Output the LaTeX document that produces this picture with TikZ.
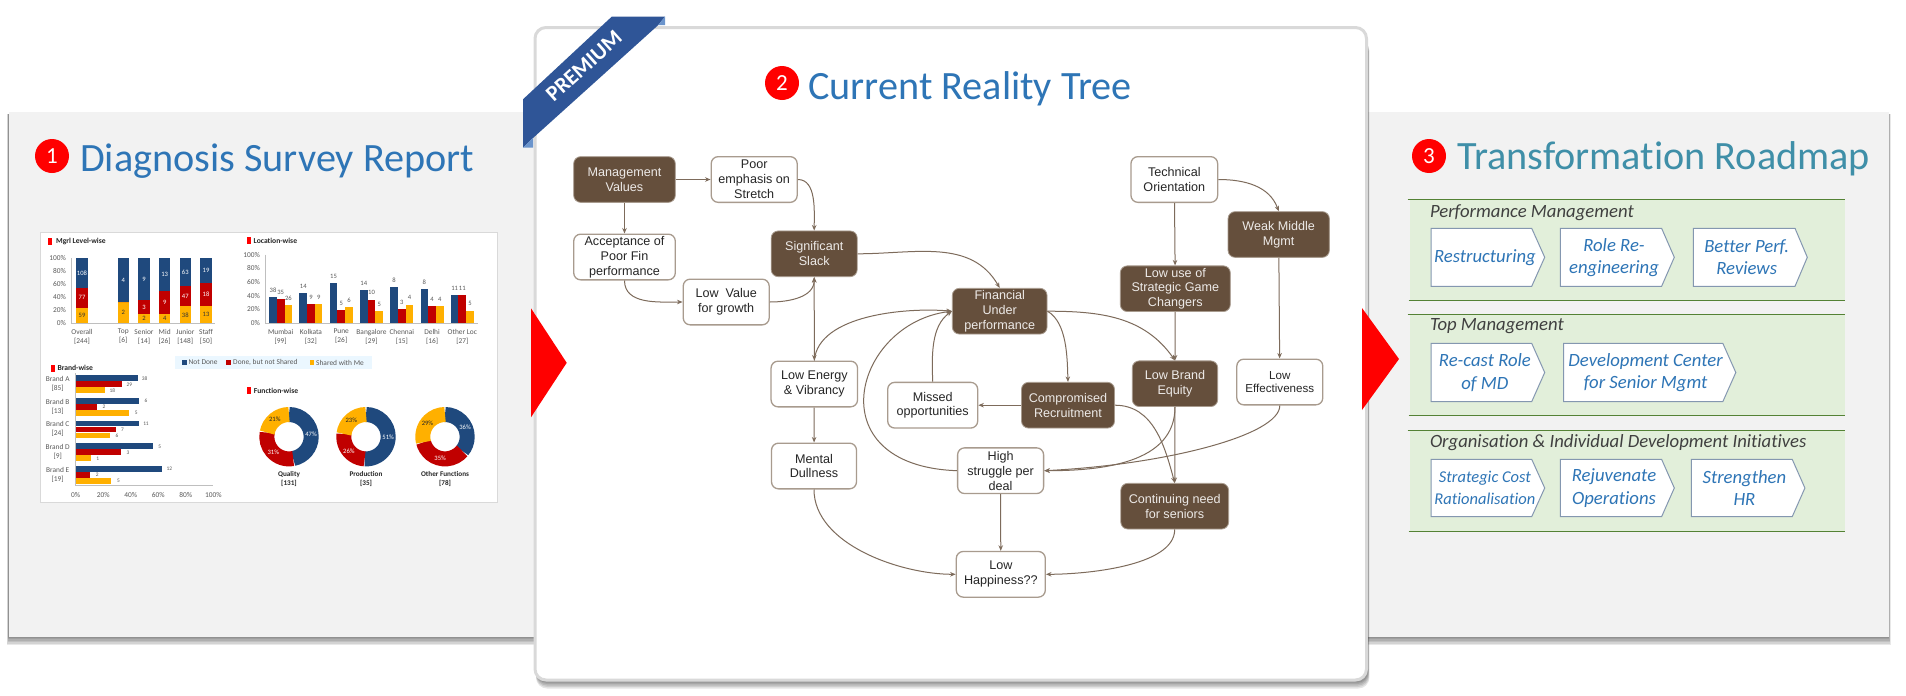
\documentclass[tikz,border=0pt]{standalone}
\usepackage{fontspec}
\setmainfont[Ligatures=NoCommon]{Carlito}
\newfontfamily\arialfont{Liberation Sans}
\usetikzlibrary{arrows.meta, positioning}

\definecolor{panelgray}{HTML}{F2F2F2}
\definecolor{cardline}{HTML}{D9D9D9}
\definecolor{titleblue}{HTML}{2E75B6}
\definecolor{titleteal}{HTML}{3F8FA8}
\definecolor{treebrown}{HTML}{654F3C}
\definecolor{treeline}{HTML}{7D6B5B}
\definecolor{treeedge}{HTML}{A89B8E}
\definecolor{ribbon}{HTML}{2F5597}
\definecolor{ribbonfold}{HTML}{6A94CC}
\definecolor{bandgreen}{HTML}{E2EFDA}
\definecolor{bandline}{HTML}{548235}
\definecolor{homeline}{HTML}{8497B0}
\definecolor{notdone}{HTML}{1F497D}
\definecolor{notshared}{HTML}{C00000}
\definecolor{sharedme}{HTML}{FFB000}
\definecolor{chartgray}{HTML}{595959}

\tikzset{
    heading/.style={anchor=base west, inner sep=0pt, font=\fontsize{40.2}{42}\selectfont},
    badge/.style={circle, fill=red, text=white, minimum size=34pt, inner sep=0pt, font=\fontsize{23}{23}\selectfont},
    darkbox/.style={draw=treeedge, line width=0.8pt, fill=treebrown, text=white!88!treebrown, rounded corners=7pt, inner sep=0pt, align=center, font=\arialfont\fontsize{12.6}{14.8}\selectfont},
    lightbox/.style={draw=treeedge, line width=1.3pt, fill=white, text=black!85, rounded corners=7pt, inner sep=0pt, align=center, font=\arialfont\fontsize{12.6}{14.8}\selectfont},
    link/.style={draw=treeline, line width=1pt, -{Stealth[length=5.5pt,width=4.5pt]}},
    hometext/.style={text=titleblue, inner sep=0pt, align=center, font=\itshape\fontsize{18.7}{22.2}\selectfont},
    bandtitle/.style={anchor=base west, inner sep=0pt, text=black!75, font=\itshape\fontsize{18.7}{20}\selectfont},
    chartbold/.style={anchor=west, inner sep=0pt, text=black!85, font=\bfseries\fontsize{7.6}{8}\selectfont},
    chartlbl/.style={inner sep=0pt, text=chartgray, align=center, font=\fontsize{7.4}{9}\selectfont},
    tinylbl/.style={inner sep=0pt, font=\fontsize{6.6}{7}\selectfont},
    marker/.style={fill=red, draw=none}
}

% name, left, end of body, tip, top, bottom, text centre, text
\newcommand{\homebox}[8]{
    \draw[homeline, line width=1pt, fill=white, line join=miter] (#2,#5) -- (#3,#5) -- (#4,#5/2+#6/2) -- (#3,#6) -- (#2,#6) -- cycle;
    \node[hometext] (#1) at (#7,#5/2+#6/2) {#8};
}

\begin{document}
\begin{tikzpicture}[x=1pt, y=-1pt]
    \useasboundingbox (0,0) rectangle (1906,696);

    % Side panels with soft shadow
    \foreach \s in {8,6.5,5,3.5,2,1} {
        \fill[black, opacity=0.09] (8.6-0.2*\s,114) rectangle (545,637+\s);
        \fill[black, opacity=0.09] (1360,114) rectangle (1889+0.2*\s,637+\s);
    }
    \fill[panelgray] (8.6,112) rectangle (545,637);
    \fill[panelgray] (1360,112) rectangle (1889,637);

    % Middle card
    \foreach \s in {7,5.5,4,2.5,1.2} {
        \fill[black, opacity=0.1, rounded corners=11pt] (536,40) rectangle (1368+0.2*\s,681.5+\s);
    }
    \draw[cardline, line width=3pt, fill=white, rounded corners=11pt] (535,27.5) rectangle (1366.5,680);

    % Red arrows between panels
    \fill[red] (531,308.3) -- (566.7,362.8) -- (531,417.3) -- cycle;
    \fill[red] (1362,308) -- (1399,359) -- (1362,410) -- cycle;

    % Ribbon
    \fill[ribbon] (611.7,16.7) -- (665,16.7) -- (658.3,25) -- (533,138) -- (523,147.7) -- (523,99.3) -- cycle;
    \fill[ribbonfold] (665,16.7) -- (665,25) -- (658.3,25) -- cycle;
    \fill[ribbonfold] (523,147.7) -- (533,147.7) -- (533,138) -- cycle;
    \node[rotate=42, text=white, inner sep=0pt, font=\bfseries\fontsize{22}{22}\selectfont] (premium) at (584,66) {PREMIUM};

    % Headings
    \node[badge] (badge1) at (52,156) {1};
    \node[heading, text=titleblue] (title1) at (80,171.7) {Diagnosis Survey Report};
    \node[badge] (badge2) at (782,83) {2};
    \node[heading, text=titleblue] (title2) at (808,99.3) {Current Reality Tree};
    \node[badge] (badge3) at (1429,156) {3};
    \node[heading, text=titleteal] (title3) at (1457,169.3) {Transformation Roadmap};

    % Survey report picture
    \fill[white] (40.7,232.7) rectangle (497,502.3);
    \draw[cardline, line width=0.8pt] (40.7,232.7) rectangle (497,502.3);

    % Mgrl Level-wise
    \fill[marker] (48.3,237.7) rectangle (52,245);
    \node[chartbold] (mgrltitle) at (56,241.7) {Mgrl Level-wise};
    \draw[black!25, line width=0.6pt] (71.7,258.3) -- (71.7,323.3) -- (215,323.3);
    \foreach \p [count=\i] in {0,20,40,60,80,100} {
        \node[chartlbl, anchor=east] (mgrly\i) at (66,323.3-0.65*\p) {\p\%};
    }
    \foreach \x/\y/\r/\ya/\ra/\ba/\nm/\n [count=\i] in {
        82/24/55/59/77/108/Overall/244, 123.3/33/33/2//4/Top/6, 144/14/36/2/3/9/Senior/14,
        164.7/15/50/4/9/13/Mid/26, 185.3/26/58/38/47/63/Junior/148, 206/26/62/13/18/19/Staff/50} {
        \fill[sharedme] (\x-5.7,323.3) rectangle (\x+5.7,323.3-0.65*\y);
        \fill[notshared] (\x-5.7,323.3-0.65*\y) rectangle (\x+5.7,323.3-0.65*\r);
        \fill[notdone] (\x-5.7,323.3-0.65*\r) rectangle (\x+5.7,258.3);
        \node[tinylbl, text=black!80] (mgrla\i) at (\x,323.3-0.325*\y) {\ya};
        \node[tinylbl, text=white] (mgrlb\i) at (\x,323.3-0.325*\y-0.325*\r) {\ra};
        \node[tinylbl, text=white] (mgrlc\i) at (\x,258.3+0.325*100-0.325*\r) {\ba};
        \node[chartlbl] (mgrln\i) at (\x,336.6) {\nm\\{}[\n]};
    }

    % Location-wise
    \fill[marker] (247.3,237) rectangle (251,244.3);
    \node[chartbold] (loctitle) at (253.5,240.5) {Location-wise};
    \draw[black!25, line width=0.6pt] (265.7,254.7) -- (265.7,323) -- (477.7,323);
    \foreach \p [count=\i] in {0,20,40,60,80,100} {
        \node[chartlbl, anchor=east] (locy\i) at (260,323-0.683*\p) {\p\%};
    }
    \foreach \b/\r/\y/\vb/\vr/\vy/\nm/\n [count=\i] in {
        38/35/26/38/35/26/Mumbai/99, 44/28/28/14/9/9/Kolkata/32, 58/19/23/15/5/6/Pune/26,
        48/34/17/14/10/5/Bangalore/29, 53/20/27/8/3/4/Chennai/15, 50/25/25/8/4/4/Delhi/16,
        41/41/18/11/11/5/Other Loc/27} {
        \pgfmathsetmacro{\cx}{280.7+30.27*(\i-1)}
        \fill[notdone] (\cx-11.5,323) rectangle (\cx-3.9,323-0.683*\b);
        \fill[notshared] (\cx-3.9,323) rectangle (\cx+3.8,323-0.683*\r);
        \fill[sharedme] (\cx+3.8,323) rectangle (\cx+11.5,323-0.683*\y);
        \node[tinylbl, text=chartgray] (locb\i) at (\cx-7.7,323-0.683*\b-7) {\vb};
        \node[tinylbl, text=chartgray] (locr\i) at (\cx,323-0.683*\r-7) {\vr};
        \node[tinylbl, text=chartgray] (locv\i) at (\cx+7.7,323-0.683*\y-7) {\vy};
        \node[chartlbl] (locn\i) at (\cx,336.6) {\nm\\{}[\n]};
    }

    % Legend
    \fill[blue!40!cyan!8] (175,355.7) rectangle (372,369.3);
    \fill[notdone] (182,360) rectangle (186.5,365);
    \node[chartlbl, anchor=west] (legenda) at (188.5,362.5) {Not Done};
    \fill[notshared] (226.2,360) rectangle (230.7,365);
    \node[chartlbl, anchor=west] (legendb) at (233,362.5) {Done, but not Shared};
    \fill[sharedme] (309.6,360) rectangle (314.1,365);
    \node[chartlbl, anchor=west] (legendc) at (316,362.5) {Shared with Me};

    % Brand-wise
    \fill[marker] (51.3,364.7) rectangle (55,371.7);
    \node[chartbold] (brandtitle) at (57.3,368) {Brand-wise};
    \draw[black!25, line width=0.6pt] (75.7,373.3) -- (75.7,485) -- (213.3,485);
    \foreach \p [count=\i] in {0,20,40,60,80,100} {
        \node[chartlbl] (brandx\i) at (75.7+1.376*\p,494.7) {\p\%};
    }
    \foreach \b/\r/\y/\vb/\vr/\vy/\nm/\n [count=\i] in {
        45/34/21.5/38/29/18/Brand A/85, 46/15.5/39/6/2/5/Brand B/13, 46/29/25/11/7/6/Brand C/24,
        56/33/11/5/3/1/Brand D/9, 63/10.6/26/12/2/5/Brand E/19} {
        \pgfmathsetmacro{\ty}{375.3+22.67*(\i-1)}
        \fill[notdone] (75.7,\ty) rectangle (75.7+1.376*\b,\ty+5.8);
        \fill[notshared] (75.7,\ty+6) rectangle (75.7+1.376*\r,\ty+11.8);
        \fill[sharedme] (75.7,\ty+12) rectangle (75.7+1.376*\y,\ty+17.8);
        \node[tinylbl, text=chartgray, font=\fontsize{5.4}{6}\selectfont] (brandb\i) at (75.7+1.376*\b+7,\ty+3) {\vb};
        \node[tinylbl, text=chartgray, font=\fontsize{5.4}{6}\selectfont] (brandr\i) at (75.7+1.376*\r+7,\ty+9) {\vr};
        \node[tinylbl, text=chartgray, font=\fontsize{5.4}{6}\selectfont] (brandv\i) at (75.7+1.376*\y+7,\ty+15) {\vy};
        \node[chartlbl] (brandn\i) at (57.7,\ty+8.5) {\nm\\{}[\n]};
    }

    % Function-wise
    \fill[marker] (247.3,387) rectangle (251,394.3);
    \node[chartbold] (functitle) at (253.7,391) {Function-wise};
    \foreach \cx/\pb/\pr/\py/\nm/\n [count=\i] in {289/47/31/21/Quality/131, 366/51/26/23/Production/35, 445/36/35/29/Other Functions/78} {
        \pgfmathsetmacro{\aa}{90-3.6*\pb}
        \pgfmathsetmacro{\ab}{90-3.6*(\pb+\pr)}
        \pgfmathsetmacro{\ma}{(90+\aa)/2}
        \pgfmathsetmacro{\mb}{(\aa+\ab)/2}
        \pgfmathsetmacro{\mc}{(\ab-270)/2}
        \draw[notdone, line width=15pt] (\cx,436.7) ++(90:22.2pt) arc[start angle=90, end angle=\aa, radius=22.2pt];
        \draw[notshared, line width=15pt] (\cx,436.7) ++(\aa:22.2pt) arc[start angle=\aa, end angle=\ab, radius=22.2pt];
        \draw[sharedme, line width=15pt] (\cx,436.7) ++(\ab:22.2pt) arc[start angle=\ab, end angle=-270, radius=22.2pt];
        \node[tinylbl, text=white] (funcb\i) at ([shift={(\ma:22.2pt)}]\cx,436.7) {\pb\%};
        \node[tinylbl, text=white] (funcr\i) at ([shift={(\mb:22.2pt)}]\cx,436.7) {\pr\%};
        \node[tinylbl, text=black!85] (funcy\i) at ([shift={(\mc:22.2pt)}]\cx,436.7) {\py\%};
        \node[chartlbl, text=black!85, font=\bfseries\fontsize{7.2}{8.8}\selectfont] (funcn\i) at (\cx,479.3) {\nm\\{}[\n]};
    }

    % Current reality tree
    \node[darkbox, minimum width=101.6pt, minimum height=45.7pt] (mgmt) at (624.5,179.5) {Management\\Values};
    \node[lightbox, minimum width=86pt, minimum height=45.7pt] (stretch) at (754.2,179.5) {Poor\\emphasis on\\Stretch};
    \node[lightbox, minimum width=101.6pt, minimum height=45.7pt] (accept) at (624.5,257) {Acceptance of\\Poor Fin\\performance};
    \node[lightbox, minimum width=86pt, minimum height=45.7pt] (value) at (726.2,302) {Low\ \ Value\\for growth};
    \node[darkbox, minimum width=86pt, minimum height=45.7pt] (slack) at (814.2,253.8) {Significant\\Slack};
    \node[darkbox, minimum width=94.7pt, minimum height=45.7pt] (fin) at (999.7,311.2) {Financial\\Under\\performance};
    \node[lightbox, minimum width=86.7pt, minimum height=45.7pt] (tech) at (1174.3,179.5) {Technical\\Orientation};
    \node[darkbox, minimum width=101.3pt, minimum height=45.7pt] (weak) at (1278.7,234.5) {Weak Middle\\Mgmt};
    \node[darkbox, minimum width=110pt, minimum height=45.7pt] (game) at (1175.3,288.7) {Low use of\\Strategic Game\\Changers};
    \node[lightbox, minimum width=86.5pt, minimum height=45.7pt] (energy) at (814.3,384) {Low Energy\\\& Vibrancy};
    \node[lightbox, minimum width=85pt, minimum height=45.7pt] (dull) at (814,466) {Mental\\Dullness};
    \node[lightbox, minimum width=90pt, minimum height=45.7pt] (missed) at (932.7,405.2) {Missed\\opportunities};
    \node[darkbox, minimum width=93pt, minimum height=45.7pt] (recruit) at (1068,405.2) {Compromised\\Recruitment};
    \node[darkbox, minimum width=85.4pt, minimum height=45.7pt] (brand) at (1175,383.7) {Low Brand\\Equity};
    \node[lightbox, minimum width=86pt, minimum height=45.7pt, font=\arialfont\fontsize{11.6}{13.5}\selectfont] (effect) at (1279.8,382) {Low\\Effectiveness};
    \node[lightbox, minimum width=86pt, minimum height=45.7pt] (struggle) at (1000.6,470.7) {High\\struggle per\\deal};
    \node[darkbox, minimum width=107.8pt, minimum height=45.7pt] (seniors) at (1174.7,506.2) {Continuing need\\for seniors};
    \node[lightbox, minimum width=89pt, minimum height=45.7pt] (happy) at (1000.8,574.3) {Low\\Happiness??};

    \draw[link] (mgmt) -- (stretch);
    \draw[link] (mgmt) -- (accept);
    \draw[link] (stretch.east) to[out=0, in=90, looseness=0.9] (slack.north);
    \draw[link] (accept.south) to[out=-90, in=180] (value.west);
    \draw[link] (value.east) to[out=0, in=-90] (slack.south);
    \draw[link] (slack.east) to[out=0, in=120] (fin.north);
    \draw[link, <->, >={Stealth[length=5.5pt,width=4.5pt]}] (slack.south) -- (energy.north);
    \draw[link] (energy.north) to[out=85, in=175, looseness=0.8] (fin.west);
    \draw[link] (missed.north) to[out=92, in=215, looseness=0.9] (fin.west);
    \draw[link] (struggle.west) .. controls +(-142,-5) and +(-98,12) .. (fin.west);
    \draw[link] (fin.east) to[out=-30, in=92, looseness=0.8] (recruit.north);
    \draw[link] (fin.east) to[out=0, in=125] (brand.north);
    \draw[link] (tech) -- (game);
    \draw[link] (tech.east) to[out=0, in=110] (weak.north);
    \draw[link] (weak) -- (effect);
    \draw[link] (game) -- (brand);
    \draw[link] (recruit) -- (missed);
    \draw[link] (recruit.east) to[out=0, in=105] (seniors.north);
    \draw[link] (brand) -- (seniors);
    \draw[link] (brand.south) to[out=-90, in=0] (struggle.east);
    \draw[link] (effect.south) .. controls +(0,30) and +(120,-6) .. (struggle.east);
    \draw[link] (energy) -- (dull);
    \draw[link] (struggle) -- (happy);
    \draw[link] (dull.south) to[out=-90, in=180, looseness=0.85] (happy.west);
    \draw[link] (seniors.south) to[out=-90, in=0, looseness=0.7] (happy.east);

    % Roadmap bands
    \foreach \t/\b in {199.3/300.3, 314.3/415.3, 430.3/531.3} {
        \fill[bandgreen] (1409.7,\t) rectangle (1845,\b);
        \draw[bandline, line width=1pt] (1407.6,\t) -- (1845,\t);
        \draw[bandline, line width=1pt] (1408.6,\b) -- (1845,\b);
    }
    \node[bandtitle] (pmtitle) at (1429.8,217.3) {Performance Management};
    \node[bandtitle] (tmtitle) at (1429.8,330.7) {Top Management};
    \node[bandtitle] (odtitle) at (1429.8,447.7) {Organisation \& Individual Development Initiatives};

    \homebox{restruct}{1431.2}{1531.7}{1544.7}{228.3}{286.3}{1484.9}{Restructuring}
    \homebox{reeng}{1560.4}{1661.6}{1674.3}{228.3}{286.3}{1614}{Role Re-\\engineering}
    \homebox{reviews}{1693.4}{1795}{1807.3}{228.3}{286.3}{1746.7}{Better Perf.\\Reviews}
    \homebox{recast}{1431.2}{1531.7}{1544.7}{343.3}{401.7}{1484.9}{Re-cast Role\\of MD}
    \homebox{devctr}{1563.5}{1722.8}{1735.8}{343.3}{401.7}{1645.6}{Development Center\\for Senior Mgmt}
    \homebox{cost}{1431.2}{1531.7}{1544.7}{459.3}{516.7}{1484.9}{\fontsize{16.5}{20}\selectfont Strategic Cost\\\fontsize{16.5}{20}\selectfont Rationalisation}
    \homebox{rejuv}{1560.4}{1661.6}{1674.3}{459.3}{516.7}{1614}{Rejuvenate\\Operations}
    \homebox{hr}{1691.4}{1792.2}{1804.9}{459.3}{516.7}{1744.4}{Strengthen\\HR}
\end{tikzpicture}
\end{document}
